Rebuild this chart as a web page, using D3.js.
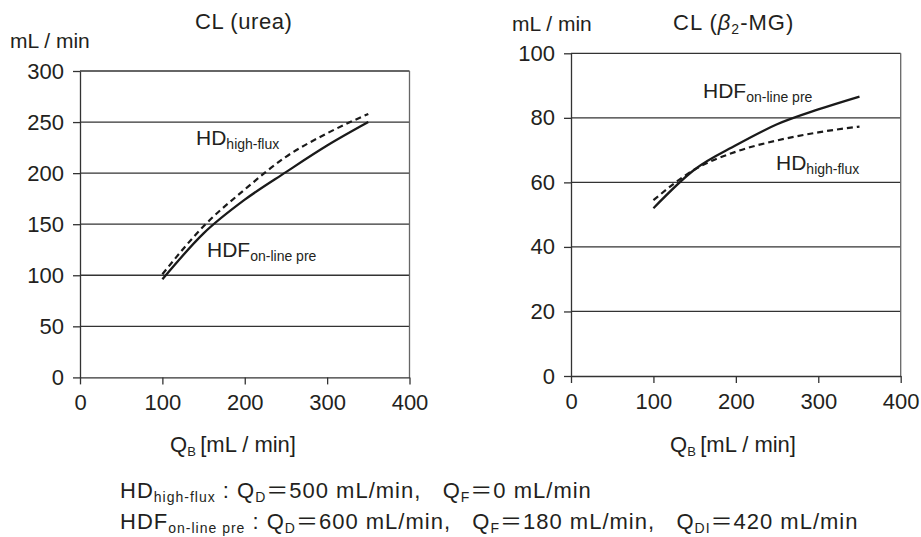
<!DOCTYPE html>
<html>
<head>
<meta charset="utf-8">
<script src="https://cdn.jsdelivr.net/npm/d3@7"></script>
<style>
    body { margin: 0; background: #fff; }
    svg text { white-space: pre; }
</style>
</head>
<body>
<svg id="chart" width="921" height="537"></svg>
<script>
// blood flow points (Q_B, mL/min)
const qbPoints = [100, 150, 200, 250, 300, 350];

// CL(urea)
const ureaHighFlux = [101, 148, 184, 216, 239, 258];
const ureaOnlinePre = [96, 141, 174, 201, 227, 250];

// CL(beta2-MG)
const b2mgHighFlux = [54.5, 64, 69.5, 73, 75.5, 77.3];
const b2mgOnlinePre = [52, 64, 71.5, 78, 82.6, 86.6];

const xTicks = [0, 100, 200, 300, 400];
const ureaTicks = [0, 50, 100, 150, 200, 250, 300];
const b2mgTicks = [0, 20, 40, 60, 80, 100];

const FONT = "'Liberation Sans', 'Noto Sans CJK JP', sans-serif";
const INK = '#231f20';

const svg = d3.select('#chart');

// text with subscript / italic parts: parts = [[text, kind], ...]
function richText(x, y, parts, size, opts) {
    opts = opts || {};
    const subSize = opts.subSize || Math.round(size * 0.64);
    const shift = size * 0.2;
    const t = svg.append('text')
        .attr('x', x).attr('y', y)
        .attr('font-family', FONT)
        .attr('font-size', size)
        .attr('fill', INK)
        .attr('text-anchor', opts.anchor || 'start');
    if (opts.spacing) t.attr('letter-spacing', opts.spacing);
    let down = false;
    parts.forEach(([s, kind]) => {
        const sp = t.append('tspan').text(s);
        if (kind === 'sub') {
            sp.attr('font-size', subSize);
            if (!down) { sp.attr('dy', shift); down = true; }
        } else {
            if (down) { sp.attr('dy', -shift); down = false; }
            if (kind === 'it') sp.attr('font-style', 'italic');
        }
    });
    return t;
}

function drawPanel(p) {
    const x = d3.scaleLinear().domain([0, 400]).range([p.left, p.right]);
    const y = d3.scaleLinear().domain([0, p.ymax]).range([p.bottom, p.top]);

    const g = svg.append('g');

    // horizontal grid lines
    g.selectAll('line.grid').data(p.yTicks.filter(d => d > 0)).join('line')
        .attr('class', 'grid')
        .attr('x1', p.left).attr('x2', p.right)
        .attr('y1', d => y(d)).attr('y2', d => y(d))
        .attr('stroke', '#333').attr('stroke-width', 1.3);

    // right border
    g.append('line')
        .attr('x1', p.right).attr('x2', p.right)
        .attr('y1', p.top).attr('y2', p.bottom)
        .attr('stroke', '#666').attr('stroke-width', 1.3);

    const xAxis = g.append('g')
        .attr('transform', `translate(0,${p.bottom})`)
        .call(d3.axisBottom(x).tickValues(xTicks).tickSize(7).tickSizeOuter(0).tickPadding(10));
    const yAxis = g.append('g')
        .attr('transform', `translate(${p.left},0)`)
        .call(d3.axisLeft(y).tickValues(p.yTicks).tickSize(7).tickSizeOuter(0).tickPadding(9));

    [xAxis, yAxis].forEach(a => {
        a.select('.domain').attr('stroke', '#333').attr('stroke-width', 1.3);
        a.selectAll('.tick line').attr('stroke', '#333').attr('stroke-width', 1.3);
        a.selectAll('.tick text')
            .attr('font-family', FONT).attr('font-size', 22).attr('fill', INK);
    });

    const line = d3.line()
        .x((d, i) => x(qbPoints[i]))
        .y(d => y(d))
        .curve(d3.curveMonotoneX);

    g.append('path').datum(p.highFlux)
        .attr('d', line).attr('fill', 'none')
        .attr('stroke', '#1a1a1a').attr('stroke-width', 2.2)
        .attr('stroke-dasharray', '6,4');
    g.append('path').datum(p.onlinePre)
        .attr('d', line).attr('fill', 'none')
        .attr('stroke', '#1a1a1a').attr('stroke-width', 2.3);
}

drawPanel({
    left: 80, right: 409.5, top: 71, bottom: 377.4, ymax: 300,
    yTicks: ureaTicks, highFlux: ureaHighFlux, onlinePre: ureaOnlinePre
});
drawPanel({
    left: 571, right: 900.7, top: 53.3, bottom: 376, ymax: 100,
    yTicks: b2mgTicks, highFlux: b2mgHighFlux, onlinePre: b2mgOnlinePre
});

// titles and units
richText(195, 29, [['CL (urea)']], 22, { spacing: 0.6 });
richText(10, 48, [['mL / min']], 21);
richText(673, 30, [['CL ('], ['β', 'it'], ['2', 'sub'], ['-MG)']], 22, { spacing: 1 });
richText(512, 31, [['mL / min']], 21);

// x axis titles
richText(170, 452, [['Q'], ['B', 'sub'], ['\u2009[mL / min]']], 22, { subSize: 13 });
richText(670, 452, [['Q'], ['B', 'sub'], ['\u2009[mL / min]']], 22, { subSize: 13 });

// curve labels
richText(196, 145, [['HD'], ['high-flux', 'sub']], 21, { subSize: 14 });
richText(207, 257, [['HDF'], ['on-line pre', 'sub']], 21, { subSize: 14 });
richText(703, 98, [['HDF'], ['on-line pre', 'sub']], 21, { subSize: 14 });
richText(776, 170, [['HD'], ['high-flux', 'sub']], 21, { subSize: 14 });

// conditions
richText(120, 498, [['HD'], ['high-flux', 'sub'], [' : Q'], ['D', 'sub'], ['＝500 mL/min,   Q'], ['F', 'sub'], ['＝0 mL/min']], 22, { subSize: 14, spacing: 1 });
richText(120, 529, [['HDF'], ['on-line pre', 'sub'], [' : Q'], ['D', 'sub'], ['＝600 mL/min,   Q'], ['F', 'sub'], ['＝180 mL/min,   Q'], ['DI', 'sub'], ['＝420 mL/min']], 22, { subSize: 14, spacing: 1 });
</script>
</body>
</html>
